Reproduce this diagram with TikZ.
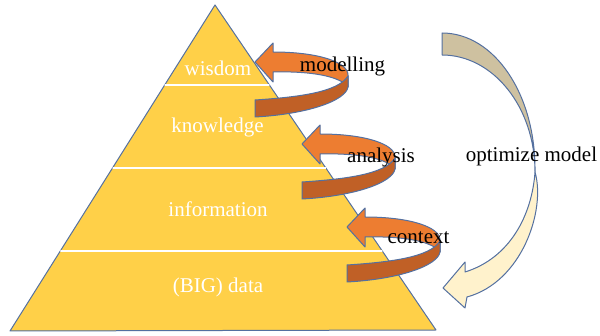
\documentclass[tikz,border=0pt]{standalone}
\usepackage{fontspec}
\setmainfont{Liberation Serif}
\usetikzlibrary{calc}
\definecolor{pyrfill}{RGB}{255,208,72}
\definecolor{edgeblue}{RGB}{84,112,160}
\definecolor{orlight}{RGB}{237,125,49}
\definecolor{ordark}{RGB}{192,96,38}
\definecolor{tanfill}{RGB}{206,193,160}
\definecolor{creamfill}{RGB}{255,242,204}
\tikzset{
  shapeline/.style={draw=edgeblue,line width=0.5pt,line join=round},
  level/.style={text=white,font=\fontsize{10.5}{12}\selectfont,anchor=base,inner sep=0pt},
  lbl/.style={text=black,font=\fontsize{10.5}{12}\selectfont,anchor=base,inner sep=0pt},
  divider/.style={draw=white,line width=0.8pt},
  orangearrow/.pic={
    \path[fill=orlight,shapeline] (255,62) -- (273,43) -- (273,52)
      .. controls (318,52) and (348,62) .. (348,75) -- (348,87)
      .. controls (340,76) and (310,71) .. (273,72) -- (273,82) -- cycle;
    \path[fill=ordark,shapeline] (255,100)
      .. controls (300,97) and (338,92) .. (348,76) -- (348,87)
      .. controls (346,100) and (310,114) .. (255,117) -- cycle;
  }
}
\begin{document}
\begin{tikzpicture}[x=0.5pt,y=-0.5pt]
\useasboundingbox (0,0) rectangle (600,336);
% pyramid
\coordinate (apex) at (215,5);
\coordinate (bl) at (10,331);
\coordinate (br) at (436,330);
\path[fill=pyrfill,shapeline] (apex) -- (br) -- (bl) -- cycle;
\draw[divider] ($(apex)!0.2454!(bl)$) -- ($(apex)!0.2462!(br)$);
\draw[divider] ($(apex)!0.5!(bl)$) -- ($(apex)!0.5015!(br)$);
\draw[divider] ($(apex)!0.7546!(bl)$) -- ($(apex)!0.7569!(br)$);
\node[level] (wis) at (218,76) {wisdom};
\node[level] (kno) at (217.5,133) {knowledge};
\node[level] (inf) at (218,216.5) {information};
\node[level] (big) at (218,293) {(BIG) data};
% orange curved arrows
\pic (a1) at (0,0) {orangearrow};
\pic (a2) at (47,82) {orangearrow};
\pic (a3) at (92,165) {orangearrow};
% big curved arrow
\path[fill=tanfill,shapeline] (442,33) .. controls (494,33) and (536,94) .. (535,172)
  .. controls (535,107) and (493,55) .. (442,55) -- cycle;
\path[fill=creamfill,shapeline] (535,172) .. controls (546,210) and (522,282) .. (467,297)
  -- (465,308) -- (443,288) -- (465,262) -- (465,272)
  .. controls (510,258) and (532,215) .. (535,172) -- cycle;
% labels
\node[lbl] (mod) at (342.5,71.5) {modelling};
\node[lbl] (ana) at (381,162.5) {analysis};
\node[lbl] (con) at (418.5,243.5) {context};
\node[lbl] (opt) at (531.5,161.5) {optimize model};
\end{tikzpicture}
\end{document}
